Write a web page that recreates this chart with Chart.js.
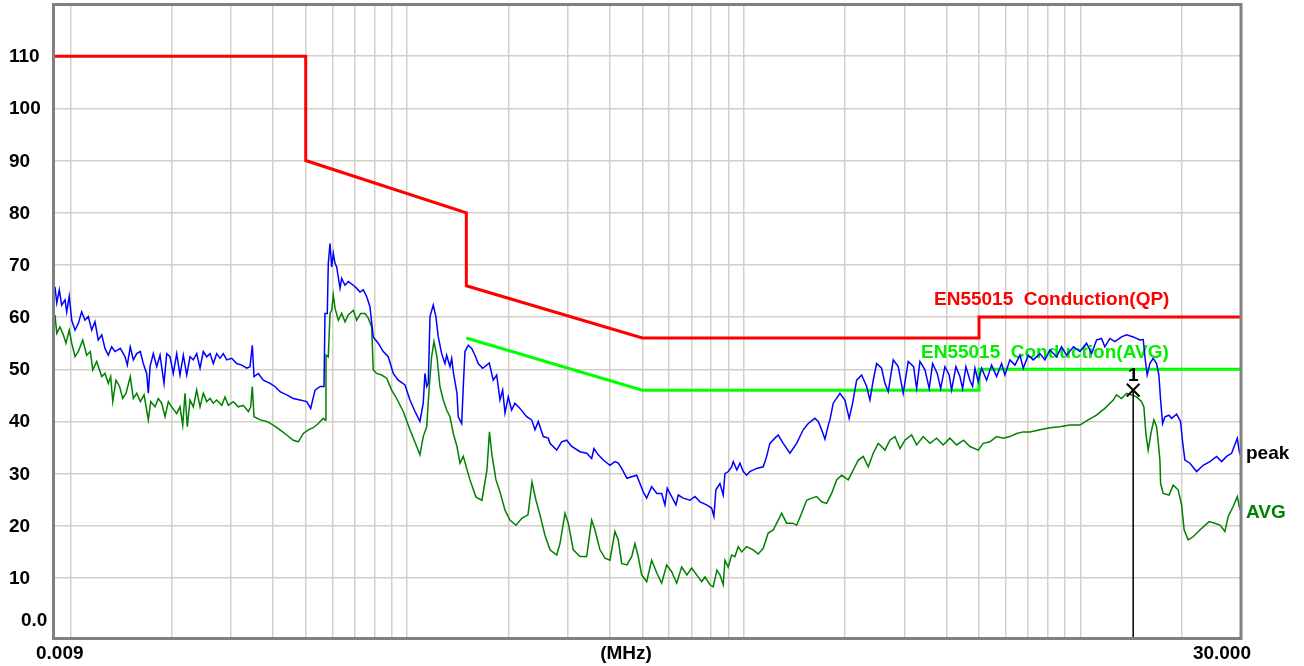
<!DOCTYPE html>
<html>
<head>
<meta charset="utf-8">
<title>EN55015 conducted emission</title>
<script src="https://cdn.jsdelivr.net/npm/chart.js@4.4.1/dist/chart.umd.min.js"></script>
<style>
  html, body { margin: 0; padding: 0; background: #fff; }
  #wrap { width: 1304px; height: 666px; }
</style>
</head>
<body>
<div id="wrap"><canvas id="emiChart" width="1304" height="666"></canvas></div>
<script>
// --- axis setup ---
const xGridValues = [0.01, 0.02, 0.03, 0.04, 0.05, 0.06, 0.07, 0.08, 0.09,
  0.1, 0.2, 0.3, 0.4, 0.5, 0.6, 0.7, 0.8, 0.9,
  1, 2, 3, 4, 5, 6, 7, 8, 9, 10, 20];
const yTickValues = [0, 10, 20, 30, 40, 50, 60, 70, 80, 90, 100, 110];
const yTickLabels = ["0.0", "10", "20", "30", "40", "50", "60", "70", "80", "90", "100", "110"];
const xLabels = ["0.009", "(MHz)", "30.000"];

// --- limit lines (MHz / dBuV) ---
const qpLimitFreq = [0.009, 0.05, 0.05, 0.15, 0.15, 0.5, 5, 5, 30];
const qpLimitLevel = [110, 110, 90, 80, 66, 56, 56, 60, 60];
const avgLimitFreq = [0.15, 0.5, 5, 5, 30];
const avgLimitLevel = [56, 46, 46, 50, 50];

// --- peak trace (blue) ---
const peakFreq = [
  0.009, 0.00911, 0.00927, 0.00942, 0.00964, 0.00975, 0.00992, 0.01009, 0.01032, 0.01056,
  0.0108, 0.01105, 0.0113, 0.01157, 0.01183, 0.0121, 0.01239, 0.01267, 0.01296, 0.01326,
  0.01357, 0.01407, 0.01453, 0.01476, 0.01506, 0.01538, 0.01574, 0.01613, 0.01646, 0.01685,
  0.01704, 0.01724, 0.01763, 0.01805, 0.01846, 0.01897, 0.01932, 0.01976, 0.02021, 0.02069,
  0.02116, 0.02165, 0.02216, 0.02266, 0.02318, 0.02372, 0.02427, 0.02482, 0.0254, 0.02599,
  0.02658, 0.0272, 0.02782, 0.02846, 0.02913, 0.03014, 0.03119, 0.03228, 0.0334, 0.03416,
  0.0347, 0.03511, 0.03616, 0.03741, 0.03916, 0.04052, 0.04194, 0.0439, 0.04593, 0.04809,
  0.05034, 0.05173, 0.05328, 0.05524, 0.05667, 0.05705, 0.05795, 0.05835, 0.05904, 0.05972,
  0.06038, 0.06109, 0.0618, 0.06322, 0.06395, 0.06542, 0.06691, 0.06923, 0.07086, 0.07249,
  0.07414, 0.07588, 0.07759, 0.07936, 0.08212, 0.08498, 0.08794, 0.09099, 0.09416, 0.09858,
  0.102, 0.1056, 0.1092, 0.1117, 0.113, 0.1144, 0.1156, 0.117, 0.1196, 0.1218,
  0.1238, 0.1267, 0.1296, 0.1311, 0.1341, 0.1357, 0.1372, 0.1407, 0.1419, 0.1453,
  0.1469, 0.1486, 0.152, 0.1556, 0.1591, 0.1627, 0.1677, 0.1724, 0.1755, 0.1803,
  0.1846, 0.1888, 0.1923, 0.1954, 0.1998, 0.2045, 0.2091, 0.2165, 0.2266, 0.2345,
  0.2399, 0.2453, 0.2539, 0.2627, 0.2658, 0.2782, 0.2879, 0.2979, 0.3083, 0.3263,
  0.3416, 0.3535, 0.3591, 0.3698, 0.3827, 0.4005, 0.4144, 0.424, 0.434, 0.45,
  0.4647, 0.4809, 0.4918, 0.503, 0.5149, 0.5328, 0.5524, 0.5705, 0.5835, 0.5928,
  0.6109, 0.629, 0.6391, 0.6613, 0.6923, 0.7164, 0.7414, 0.7759, 0.8029, 0.8155,
  0.8268, 0.8498, 0.8692, 0.8794, 0.8994, 0.9206, 0.9307, 0.9545, 0.9743, 0.997,
  1.02, 1.043, 1.092, 1.143, 1.17, 1.196, 1.238, 1.266, 1.31, 1.372,
  1.436, 1.502, 1.555, 1.627, 1.665, 1.704, 1.743, 1.783, 1.803, 1.845,
  1.931, 1.998, 2.057, 2.106, 2.165, 2.24, 2.318, 2.371, 2.425, 2.482,
  2.568, 2.627, 2.687, 2.781, 2.877, 2.977, 3.081, 3.196, 3.263, 3.338,
  3.454, 3.557, 3.64, 3.757, 3.846, 3.959, 4.077, 4.144, 4.269, 4.387,
  4.468, 4.571, 4.698, 4.785, 4.861, 4.973, 5.089, 5.266, 5.449, 5.639,
  5.835, 5.968, 6.176, 6.391, 6.613, 6.765, 7.0, 7.244, 7.583, 7.844,
  8.117, 8.498, 8.794, 9.099, 9.544, 9.97, 10.43, 10.8, 11.17, 11.56,
  11.82, 12.24, 12.66, 13.25, 13.72, 14.35, 15.02, 15.37, 15.55, 15.79,
  16.09, 16.45, 16.84, 17.11, 17.31, 17.55, 17.83, 18.34, 18.66, 19.31,
  19.84, 20.12, 20.44, 21.15, 22.14, 23.16, 24.25, 25.39, 26.27, 27.18,
  28.13, 29.25, 29.65, 30
];
const peakLevel = [
  65.8, 62.7, 65.2, 62.3, 63.3, 61.0, 64.0, 59.4, 57.5, 58.8,
  61.0, 59.4, 60.1, 57.5, 59.1, 55.6, 56.6, 54.0, 52.7, 54.3,
  53.4, 54.0, 52.4, 50.8, 54.3, 51.8, 53.0, 53.4, 51.1, 49.2,
  45.4, 50.5, 53.0, 50.5, 52.7, 47.3, 53.0, 52.4, 49.2, 53.0,
  48.9, 52.7, 48.9, 52.4, 51.8, 53.0, 50.2, 53.4, 52.4, 53.0,
  51.1, 53.0, 52.1, 53.0, 51.8, 52.1, 51.1, 50.8, 50.2, 50.5,
  54.6, 48.6, 49.2, 47.9, 47.3, 46.7, 45.7, 45.1, 44.4, 44.1,
  43.8, 42.5, 46.0, 46.7, 46.7, 60.7, 60.7, 70.3, 74.1, 69.6,
  72.2, 70.3, 69.6, 65.5, 67.4, 66.1, 66.8, 66.1, 65.5, 64.8,
  65.2, 63.9, 62.0, 56.2, 55.0, 53.4, 52.4, 49.2, 47.9, 47.0,
  44.1, 41.9, 40.0, 43.5, 49.2, 46.7, 47.3, 60.1, 62.3, 60.1,
  56.2, 53.0, 51.1, 52.7, 50.5, 52.1, 49.5, 45.4, 40.9, 39.6,
  46.7, 53.4, 54.6, 54.0, 52.7, 51.1, 50.2, 50.8, 51.2, 47.9,
  48.9, 44.1, 46.0, 41.6, 44.7, 42.2, 43.5, 42.5, 40.9, 40.3,
  38.4, 40.0, 37.1, 36.8, 35.8, 34.5, 36.1, 36.4, 35.2, 34.2,
  33.9, 32.9, 34.8, 33.6, 32.6, 31.6, 32.3, 32.0, 31.0, 29.1,
  29.4, 29.7, 28.1, 26.5, 25.3, 27.5, 26.2, 26.2, 24.0, 27.2,
  25.6, 24.0, 25.9, 25.3, 24.9, 25.6, 24.6, 24.0, 23.4, 21.8,
  26.9, 28.1, 25.9, 30.0, 30.4, 31.3, 32.3, 30.7, 32.0, 30.4,
  29.7, 30.4, 31.0, 31.3, 33.3, 35.8, 36.8, 37.4, 35.8, 33.9,
  35.8, 38.4, 39.6, 40.6, 40.0, 38.4, 36.6, 39.3, 40.3, 43.5,
  45.4, 44.1, 40.6, 43.5, 47.9, 48.9, 46.7, 44.1, 47.9, 51.1,
  50.2, 47.3, 45.7, 51.8, 50.5, 45.4, 51.5, 50.5, 46.3, 51.5,
  49.9, 46.3, 51.1, 49.2, 46.3, 50.5, 48.9, 46.0, 50.5, 48.6,
  46.3, 50.5, 47.9, 46.7, 50.2, 47.6, 50.2, 47.9, 50.8, 48.6,
  51.1, 48.9, 51.8, 50.8, 52.7, 50.2, 52.7, 51.8, 53.0, 51.8,
  53.7, 52.4, 54.3, 52.7, 54.3, 53.4, 55.0, 53.0, 55.6, 55.9,
  54.3, 55.9, 55.3, 56.2, 56.6, 56.2, 55.6, 55.7, 52.4, 48.9,
  51.1, 52.1, 51.1, 48.9, 44.1, 39.6, 40.9, 41.2, 40.6, 41.4,
  40.0, 36.1, 32.6, 32.0, 30.4, 31.6, 32.3, 33.3, 32.3, 33.3,
  33.9, 36.8, 34.2, 33.3
];

// --- average trace (green) ---
const avgFreq = [
  0.009, 0.00911, 0.00931, 0.00953, 0.0097, 0.00992, 0.01009, 0.01032, 0.01056, 0.01088,
  0.01118, 0.01146, 0.01165, 0.01197, 0.01239, 0.01267, 0.01296, 0.01317, 0.01336, 0.01366,
  0.014, 0.0143, 0.01463, 0.01506, 0.01538, 0.01574, 0.01613, 0.01655, 0.01704, 0.01732,
  0.01784, 0.01824, 0.01867, 0.0191, 0.01954, 0.01999, 0.02069, 0.02116, 0.02156, 0.0219,
  0.02225, 0.02266, 0.02318, 0.02372, 0.02427, 0.02482, 0.0254, 0.02599, 0.02658, 0.0272,
  0.02815, 0.02879, 0.02945, 0.03047, 0.03153, 0.03263, 0.03377, 0.03432, 0.0347, 0.03511,
  0.03665, 0.03829, 0.04005, 0.04194, 0.0439, 0.04593, 0.04753, 0.04918, 0.05089, 0.05266,
  0.05449, 0.05639, 0.05705, 0.05744, 0.05835, 0.05904, 0.05972, 0.06038, 0.06109, 0.06248,
  0.06395, 0.06542, 0.06691, 0.06923, 0.07086, 0.07283, 0.07501, 0.07672, 0.0785, 0.07936,
  0.08123, 0.08405, 0.08698, 0.09, 0.09313, 0.09743, 0.102, 0.1068, 0.1092, 0.1117,
  0.1144, 0.1164, 0.1183, 0.1202, 0.1227, 0.1252, 0.1281, 0.1311, 0.1341, 0.1372,
  0.1407, 0.1436, 0.1469, 0.1503, 0.1538, 0.1602, 0.1669, 0.1727, 0.1757, 0.1787,
  0.1837, 0.1888, 0.1954, 0.2021, 0.2106, 0.2195, 0.2287, 0.235, 0.2415, 0.2482,
  0.2568, 0.2658, 0.2782, 0.2846, 0.2945, 0.3012, 0.3117, 0.3263, 0.3416, 0.3535,
  0.3616, 0.3741, 0.3872, 0.4005, 0.4144, 0.424, 0.434, 0.45, 0.4647, 0.4753,
  0.4861, 0.4976, 0.5149, 0.5328, 0.5524, 0.5705, 0.5904, 0.6109, 0.6322, 0.6542,
  0.6783, 0.7005, 0.7249, 0.7501, 0.7672, 0.7936, 0.8117, 0.8325, 0.8498, 0.8692,
  0.8794, 0.8994, 0.9206, 0.9416, 0.9631, 0.9858, 1.02, 1.067, 1.104, 1.143,
  1.182, 1.224, 1.266, 1.296, 1.341, 1.4, 1.436, 1.486, 1.538, 1.591,
  1.647, 1.704, 1.763, 1.824, 1.888, 1.954, 2.044, 2.115, 2.19, 2.265,
  2.344, 2.425, 2.51, 2.568, 2.627, 2.718, 2.813, 2.913, 3.012, 3.153,
  3.263, 3.414, 3.574, 3.741, 3.913, 4.096, 4.289, 4.499, 4.698, 4.973,
  5.145, 5.387, 5.639, 5.9, 6.176, 6.466, 6.765, 7.082, 7.583, 8.117,
  8.692, 9.307, 9.97, 10.55, 11.17, 11.82, 12.52, 12.81, 13.25, 13.72,
  14.19, 14.69, 15.2, 15.44, 15.65, 15.9, 16.2, 16.53, 16.84, 17.03,
  17.23, 17.31, 17.62, 18.34, 18.87, 19.52, 19.98, 20.34, 20.9, 21.63,
  22.65, 24.12, 25.1, 26.05, 26.87, 27.48, 28.44, 29.25, 29.65, 30
];
const avgLevel = [
  60.4, 56.9, 58.1, 56.6, 55.0, 57.5, 55.0, 52.4, 53.4, 55.6,
  52.7, 53.4, 49.9, 51.5, 48.6, 49.2, 47.3, 48.6, 43.8, 47.9,
  46.7, 44.4, 45.4, 48.6, 44.4, 45.4, 43.8, 45.1, 40.3, 43.8,
  42.8, 44.4, 43.5, 40.9, 43.8, 42.8, 41.5, 42.8, 39.3, 45.4,
  39.0, 44.1, 42.8, 46.0, 42.8, 45.4, 43.8, 44.4, 43.5, 44.1,
  43.1, 44.7, 43.1, 43.8, 42.8, 43.1, 41.9, 42.8, 46.7, 40.9,
  40.3, 40.0, 39.3, 38.4, 37.4, 36.4, 36.1, 37.7, 38.4, 38.8,
  39.6, 40.6, 40.3, 52.7, 52.4, 60.7, 61.3, 64.2, 61.7, 59.4,
  60.7, 59.1, 60.4, 61.3, 59.4, 60.7, 60.7, 59.8, 58.1, 49.9,
  49.2, 48.9, 48.3, 46.0, 44.4, 41.9, 38.4, 35.2, 33.6, 37.1,
  39.0, 46.7, 52.4, 55.3, 52.4, 46.7, 44.1, 42.2, 40.9, 37.7,
  35.2, 32.0, 33.3, 31.0, 28.8, 25.5, 24.9, 30.7, 38.0, 33.6,
  28.8, 26.5, 23.0, 21.1, 20.1, 21.5, 22.1, 28.4, 24.9, 22.1,
  18.2, 15.4, 14.4, 16.6, 22.4, 20.5, 15.4, 14.1, 14.1, 21.1,
  19.2, 15.4, 13.8, 13.4, 18.9, 17.3, 12.8, 12.5, 14.1, 16.6,
  14.1, 10.6, 9.3, 13.4, 10.9, 9.0, 12.5, 11.2, 9.0, 12.1,
  10.6, 11.9, 10.6, 9.3, 10.2, 8.7, 8.3, 11.5, 10.6, 8.7,
  13.4, 12.1, 14.4, 14.1, 16.0, 15.0, 16.0, 15.4, 14.6, 15.7,
  18.6, 19.2, 21.1, 22.4, 20.5, 20.5, 20.1, 22.4, 24.9, 25.3,
  25.6, 24.6, 24.3, 26.2, 28.8, 29.7, 28.8, 30.7, 32.6, 33.3,
  31.3, 33.9, 35.8, 35.2, 34.5, 36.4, 37.1, 34.8, 36.4, 37.4,
  35.5, 37.1, 35.8, 36.8, 35.5, 36.8, 35.5, 36.4, 35.2, 34.5,
  35.8, 36.1, 37.1, 36.8, 37.1, 37.7, 38.0, 38.0, 38.4, 38.8,
  39.0, 39.3, 39.3, 40.3, 41.2, 42.5, 44.1, 45.1, 44.4, 45.4,
  45.1, 44.7, 43.8, 42.8, 37.7, 34.5, 37.7, 40.3, 39.0, 36.1,
  32.6, 28.1, 26.2, 25.9, 27.8, 26.9, 24.0, 19.2, 17.3, 17.9,
  19.2, 20.8, 20.5, 20.1, 18.9, 21.8, 23.7, 25.6, 23.7, 22.8
];

// --- marker 1 ---
const markerFreq = 14.35;
const markerLevel = 46.0;
const markerLabel = "1";

const labelFont = 'bold 19px "Liberation Sans", Arial, sans-serif';

const toPoints = (xs, ys) => xs.map((x, i) => ({ x: x, y: ys[i] }));

// draws the frame, tick labels and trace names
const textPlugin = {
  id: "emiText",
  beforeDatasetsDraw(chart) {
    const ctx = chart.ctx;
    ctx.save();
    ctx.font = labelFont;
    ctx.textBaseline = "alphabetic";
    ctx.textAlign = "left";
    ctx.fillStyle = "#ff0000";
    ctx.fillText("EN55015  Conduction(QP)", 934, 305);
    ctx.fillStyle = "#00ee00";
    ctx.fillText("EN55015  Conduction(AVG)", 921, 358);
    ctx.restore();
  },
  afterDraw(chart) {
    const ctx = chart.ctx;
    const area = chart.chartArea;
    const xs = chart.scales.x;
    const ys = chart.scales.y;
    ctx.save();

    // frame
    ctx.strokeStyle = "#808080";
    ctx.lineWidth = 3;
    ctx.strokeRect(area.left - 1.5, area.top + 0.5, area.right - area.left + 1.5, area.bottom - area.top);

    ctx.font = labelFont;
    ctx.fillStyle = "#000";
    ctx.textBaseline = "alphabetic";
    ctx.textAlign = "left";

    // y labels
    yTickValues.forEach((v, i) => {
      const y = ys.getPixelForValue(v);
      if (v === 0) {
        ctx.fillText(yTickLabels[i], 21, y - 4);
      } else {
        ctx.fillText(yTickLabels[i], 9, y + 6);
      }
    });

    // x labels
    const baseY = area.bottom + 21;
    ctx.fillText(xLabels[0], xs.getPixelForValue(xs.min) - 19, baseY);
    ctx.textAlign = "center";
    ctx.fillText(xLabels[1], 626, baseY);
    ctx.textAlign = "right";
    ctx.fillText(xLabels[2], xs.getPixelForValue(xs.max) + 10, baseY);

    // trace names
    ctx.textAlign = "left";
    ctx.fillStyle = "#000";
    ctx.fillText("peak", 1246, 459);
    ctx.fillStyle = "#008000";
    ctx.fillText("AVG", 1246, 518);

    // marker number
    ctx.fillStyle = "#000";
    ctx.textAlign = "center";
    ctx.fillText(markerLabel, xs.getPixelForValue(markerFreq), ys.getPixelForValue(markerLevel) - 9);

    ctx.restore();
  }
};

const gridStyle = { color: "#d4d0c8", lineWidth: 1.5, drawTicks: false };

new Chart(document.getElementById("emiChart"), {
  type: "scatter",
  data: {
    datasets: [
      {
        label: "marker",
        data: [{ x: markerFreq, y: markerLevel }, { x: markerFreq, y: -1.5 }],
        showLine: true,
        borderColor: "#000",
        borderWidth: 1.5,
        pointRadius: [9, 0],
        pointStyle: "crossRot",
        pointBorderColor: "#000",
        pointBorderWidth: 2,
        order: 0
      },
      {
        label: "peak",
        data: toPoints(peakFreq, peakLevel),
        showLine: true,
        borderColor: "#0000ff",
        borderWidth: 1.5,
        pointRadius: 0,
        order: 1
      },
      {
        label: "AVG",
        data: toPoints(avgFreq, avgLevel),
        showLine: true,
        borderColor: "#008000",
        borderWidth: 1.5,
        pointRadius: 0,
        order: 2
      },
      {
        label: "EN55015 Conduction(AVG)",
        data: toPoints(avgLimitFreq, avgLimitLevel),
        showLine: true,
        borderColor: "#00ff00",
        borderWidth: 3,
        pointRadius: 0,
        order: 3
      },
      {
        label: "EN55015 Conduction(QP)",
        data: toPoints(qpLimitFreq, qpLimitLevel),
        showLine: true,
        borderColor: "#ff0000",
        borderWidth: 3,
        pointRadius: 0,
        order: 4
      }
    ]
  },
  options: {
    responsive: false,
    animation: false,
    devicePixelRatio: 1,
    layout: { autoPadding: false, padding: { left: 55, right: 63, top: 4, bottom: 28 } },
    plugins: { legend: { display: false }, tooltip: { enabled: false } },
    scales: {
      x: {
        type: "logarithmic",
        min: 0.009,
        max: 30,
        ticks: { display: false },
        grid: gridStyle,
        border: { display: false },
        afterBuildTicks: (scale) => { scale.ticks = xGridValues.map(v => ({ value: v })); },
        afterFit: (scale) => { scale.height = 0; }
      },
      y: {
        type: "linear",
        min: -1.5,
        max: 120,
        ticks: { display: false },
        grid: gridStyle,
        border: { display: false },
        afterBuildTicks: (scale) => { scale.ticks = yTickValues.filter(v => v > 0).map(v => ({ value: v })); },
        afterFit: (scale) => { scale.width = 0; }
      }
    }
  },
  plugins: [textPlugin]
});
</script>
</body>
</html>
